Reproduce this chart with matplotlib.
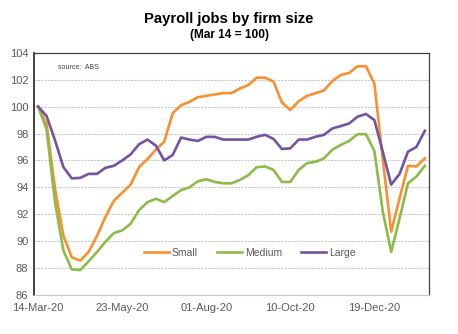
import matplotlib
matplotlib.use("Agg")
import matplotlib.pyplot as plt
import numpy as np

plt.rcParams['font.family'] = ['Liberation Sans', 'DejaVu Sans']

tick_labels = ["14-Mar-20", "23-May-20", "01-Aug-20", "10-Oct-20", "19-Dec-20"]

small = [100.0, 98.7, 93.9, 90.4, 88.8, 88.55, 89.2, 90.4, 91.8, 93.0,
         93.6, 94.2, 95.5, 96.1, 96.8, 97.4, 99.5, 100.1, 100.35, 100.7,
         100.8, 100.9, 101.0, 101.0, 101.35, 101.6, 102.15, 102.15, 101.85, 100.3,
         99.75, 100.4, 100.8, 101.0, 101.2, 101.9, 102.35, 102.5, 103.0, 103.0,
         101.7, 96.1, 90.7, 93.2, 95.6, 95.55, 96.15]
medium = [100.0, 98.3, 92.9, 89.3, 87.9, 87.85, 88.5, 89.2, 89.95, 90.6,
          90.8, 91.3, 92.3, 92.9, 93.15, 92.9, 93.35, 93.8, 94.0, 94.45,
          94.6, 94.4, 94.3, 94.3, 94.55, 94.9, 95.5, 95.55, 95.3, 94.4,
          94.4, 95.3, 95.8, 95.9, 96.15, 96.8, 97.15, 97.45, 97.95, 97.95,
          96.7, 92.2, 89.2, 91.7, 94.3, 94.8, 95.6]
large = [100.0, 99.3, 97.5, 95.5, 94.67, 94.7, 95.0, 95.0, 95.45, 95.6,
         96.0, 96.45, 97.2, 97.55, 97.1, 96.0, 96.4, 97.7, 97.55, 97.45,
         97.75, 97.75, 97.55, 97.55, 97.55, 97.55, 97.76, 97.9, 97.6, 96.85,
         96.9, 97.55, 97.55, 97.76, 97.9, 98.38, 98.55, 98.75, 99.25, 99.45,
         99.0, 96.65, 94.2, 95.0, 96.65, 97.0, 98.2]

series_names = ["Small", "Medium", "Large"]
colors = ["#F8902F", "#8DBB4A", "#7353A3"]

fig = plt.figure(figsize=(4.58, 3.34), dpi=100)
ax = fig.add_axes([0.0742, 0.1168, 0.8625, 0.7252])

x = np.arange(len(small))
for data, name, c in zip([small, medium, large], series_names, colors):
    ax.plot(x, data, color=c, lw=1.9, label=name, solid_joinstyle='round')

ax.set_xlim(-0.5, len(small) - 0.5)
ax.set_ylim(86, 104)
ax.set_yticks(np.arange(86, 105, 2))
ax.set_xticks([0, 10, 20, 30, 40])
ax.set_xticklabels(tick_labels)
ax.tick_params(axis='both', length=0, labelsize=8, colors='#595959', pad=4)
ax.tick_params(axis='x', pad=6)
ax.yaxis.grid(True, color='#C8C8C8', lw=0.8, linestyle=(0, (2, 1)))
ax.set_axisbelow(True)

for side in ['top', 'right']:
    ax.spines[side].set_color('#404040')
    ax.spines[side].set_linewidth(0.9)
ax.spines['left'].set_color('#404040')
ax.spines['left'].set_linewidth(1.4)
ax.spines['bottom'].set_color('#C8C8C8')
ax.spines['bottom'].set_linewidth(0.8)

ax.text(0.06, 0.955, "source:  ABS", transform=ax.transAxes, fontsize=5,
        color='#404040', va='top', ha='left')

leg = ax.legend(loc='center', bbox_to_anchor=(0.546, 0.173), ncol=3, frameon=False,
                fontsize=7.5, handlelength=2.4, columnspacing=1.8, handletextpad=0.3,
                borderpad=0, borderaxespad=0)
for t in leg.get_texts():
    t.set_color('#595959')

fig.text(0.5, 0.943, "Payroll jobs by firm size", ha='center', va='center',
         fontsize=10.7, fontweight='bold')
fig.text(0.5, 0.895, "(Mar 14 = 100)", ha='center', va='center',
         fontsize=8.6, fontweight='bold')

fig.savefig("out.png", dpi=100)
